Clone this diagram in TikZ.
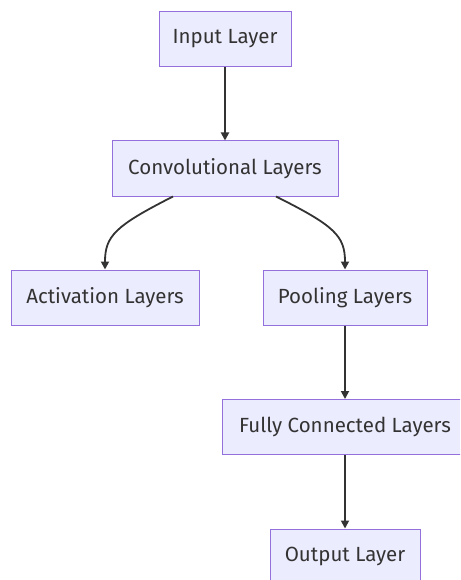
\documentclass[tikz,border=0pt]{standalone}
\usepackage{fontspec}
\setmainfont{Fira Sans}
\usetikzlibrary{arrows.meta}
\definecolor{boxfill}{HTML}{ECECFF}
\definecolor{boxline}{HTML}{9370DB}
\definecolor{ink}{HTML}{333333}
\begin{document}
\begin{tikzpicture}[x=1pt,y=-1pt,
  layer/.style={draw=boxline,fill=boxfill,line width=1pt,minimum height=55pt,inner sep=0pt,text=ink,font=\fontsize{20.5}{24}\selectfont},
  conn/.style={draw=ink,line width=1.8pt,-{Triangle[length=8pt,width=8pt]}}]
\useasboundingbox (0,0) rectangle (460,580);
\begin{scope}
\clip (0,0) rectangle (460,580);
\node[layer,minimum width=132pt] (in) at (225,39) {Input Layer};
\node[layer,minimum width=226pt] (conv) at (225,168.5) {Convolutional Layers};
\node[layer,minimum width=188pt] (act) at (105,297.5) {Activation Layers};
\node[layer,minimum width=164pt] (pool) at (345,297.5) {Pooling Layers};
\node[layer,minimum width=246pt] (fc) at (345,427) {Fully Connected Layers};
\node[layer,minimum width=150pt] (out) at (345,556.5) {Output Layer};
\draw[conn] (in) -- (conv);
\draw[conn] ([xshift=-52pt]conv.south) .. controls (115,226) and (105,236) .. (act.north);
\draw[conn] ([xshift=51pt]conv.south) .. controls (335,226) and (345,236) .. (pool.north);
\draw[conn] (pool) -- (fc);
\draw[conn] (fc) -- (out);
\end{scope}
\end{tikzpicture}
\end{document}
